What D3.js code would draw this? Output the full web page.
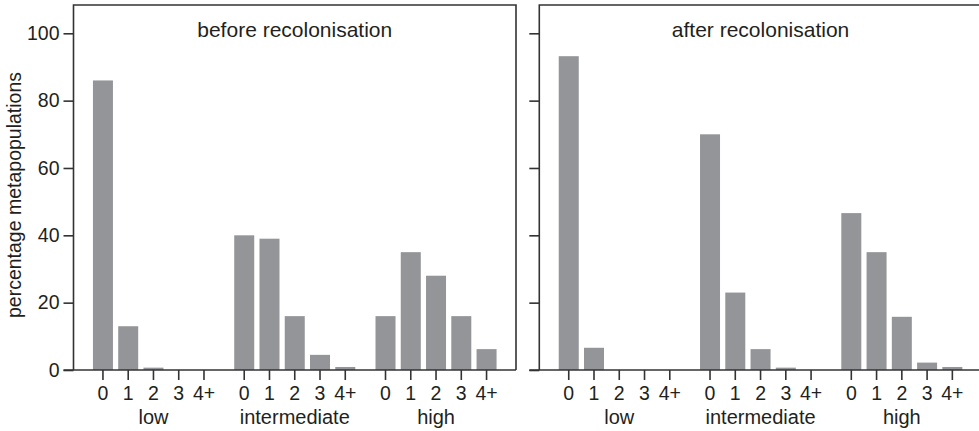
<!DOCTYPE html>
<html>
<head>
<meta charset="utf-8">
<script src="https://cdn.jsdelivr.net/npm/d3@7"></script>
<style>
  body { margin: 0; background: #fff; }
  text { font-family: "Liberation Sans", Arial, sans-serif; fill: #231f20; }
</style>
</head>
<body>
<div id="chart"></div>
<script>
// data
const groups = ["low", "intermediate", "high"];
const counts = ["0", "1", "2", "3", "4+"];
const beforeValues = [
  [86, 13, 0.7, 0, 0],
  [40, 39, 16, 4.5, 0.9],
  [16, 35, 28, 16, 6.2]
];
const afterValues = [
  [93.2, 6.6, 0, 0, 0],
  [70, 23, 6.2, 0.7, 0],
  [46.6, 35, 15.8, 2.2, 0.9]
];
const yTicks = [0, 20, 40, 60, 80, 100];
const panelTitles = ["before recolonisation", "after recolonisation"];
const yLabel = "percentage metapopulations";

const W = 979, H = 431;
const panelW = 442.5;
const panelLeft = [73.5, 539.3];
const frameTop = 5;
const barColor = "#939598";
const lineColor = "#333333";

const svg = d3.select("#chart").append("svg")
    .attr("width", W)
    .attr("height", H);

const y = d3.scaleLinear()
    .domain([0, 100])
    .range([370, 33.3]);

const x0 = d3.scaleBand()
    .domain(groups)
    .range([0, panelW])
    .paddingInner(0.106)
    .paddingOuter(0.119);

const x1 = d3.scaleBand()
    .domain(counts)
    .range([0, x0.bandwidth()])
    .paddingInner(0.208)
    .paddingOuter(0.104);

const panels = [beforeValues, afterValues];

panels.forEach((values, p) => {
  const g = svg.append("g")
      .attr("transform", `translate(${panelLeft[p]},0)`);

  // bars
  groups.forEach((grp, i) => {
    g.selectAll(null)
        .data(values[i].map((v, j) => ({c: counts[j], v: v})))
      .enter().append("rect")
        .attr("x", d => x0(grp) + x1(d.c))
        .attr("y", d => y(d.v))
        .attr("width", x1.bandwidth())
        .attr("height", d => y(0) - y(d.v))
        .attr("fill", barColor);
  });

  // y axis (ticks only, frame drawn separately)
  const yAxis = g.append("g")
      .call(d3.axisLeft(y).tickValues(yTicks).tickSize(10).tickPadding(4)
        .tickFormat(p === 0 ? d3.format("d") : () => ""));
  yAxis.select(".domain").remove();
  yAxis.selectAll("line").attr("stroke", lineColor).attr("stroke-width", 1.6);
  yAxis.selectAll("text").attr("font-size", 19.5).attr("fill", "#231f20");

  // frame
  g.append("path")
      .attr("d", `M0,${y(0)}V${frameTop}H${panelW}V${y(0)}`)
      .attr("fill", "none")
      .attr("stroke", lineColor)
      .attr("stroke-width", 1.6);

  // baseline
  g.append("line")
      .attr("x1", -10)
      .attr("x2", panelW)
      .attr("y1", y(0))
      .attr("y2", y(0))
      .attr("stroke", lineColor)
      .attr("stroke-width", 1.6);

  // x axes per group
  groups.forEach(grp => {
    const ax = g.append("g")
        .attr("transform", `translate(${x0(grp)},${y(0)})`)
        .call(d3.axisBottom(x1).tickSize(10).tickPadding(6));
    ax.select(".domain").remove();
    ax.selectAll("line").attr("stroke", lineColor).attr("stroke-width", 1.6);
    ax.selectAll("text").attr("font-size", 19.5).attr("fill", "#231f20");

    g.append("text")
        .attr("x", x0(grp) + x0.bandwidth() / 2)
        .attr("y", 424)
        .attr("text-anchor", "middle")
        .attr("font-size", 20)
        .text(grp);
  });

  // panel title
  g.append("text")
      .attr("x", panelW / 2)
      .attr("y", 36.5)
      .attr("text-anchor", "middle")
      .attr("font-size", 21)
      .text(panelTitles[p]);
});

svg.append("text")
    .attr("transform", "translate(21,195) rotate(-90)")
    .attr("text-anchor", "middle")
    .attr("font-size", 19.5)
    .text(yLabel);
</script>
</body>
</html>
